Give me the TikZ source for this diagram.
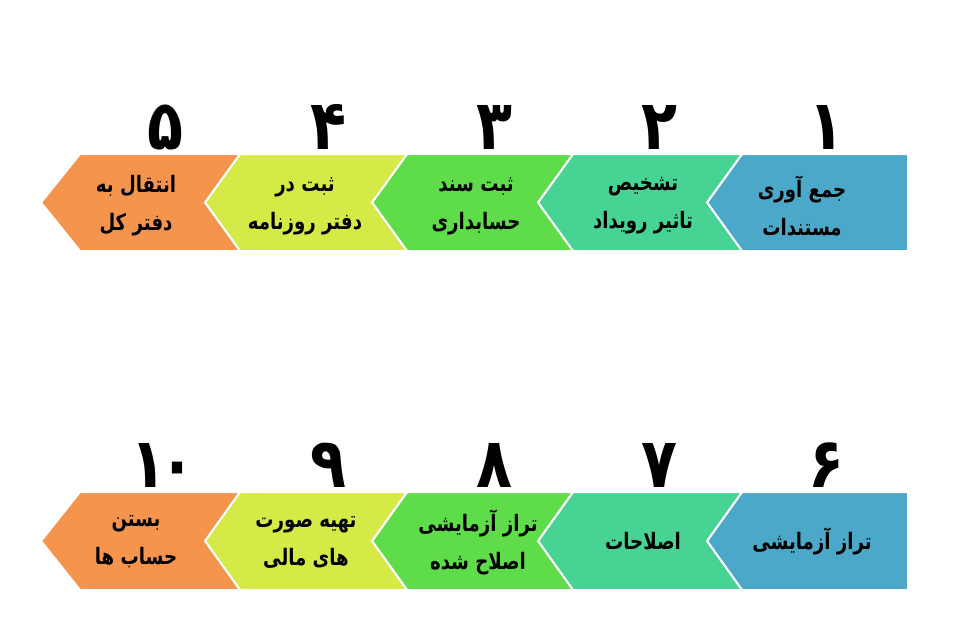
\documentclass[tikz,border=0pt]{standalone}
\usepackage{fontspec}
\usepackage{tikz}
\TeXXeTstate=1
\newfontfamily\arabicfont[Script=Arabic]{DejaVu Sans}
\newcommand{\rtline}[1]{\scalebox{0.8}[1]{\beginR #1\endR}}
\newcommand{\numtxt}[1]{\scalebox{0.85}[1]{#1}}
\definecolor{stepblue}{RGB}{75,168,201}
\definecolor{stepteal}{RGB}{70,211,148}
\definecolor{stepgreen}{RGB}{94,220,74}
\definecolor{stepyellow}{RGB}{213,234,70}
\definecolor{steporange}{RGB}{245,148,76}
\tikzset{
  chevbox/.style={draw=white,line width=1.5pt,line join=miter},
  steptext/.style={inner sep=0.75pt,align=center,font=\arabicfont\bfseries\fontsize{17}{28.5}\selectfont},
  stepnum/.style={inner sep=0.75pt,font=\arabicfont\bfseries\fontsize{52}{52}\selectfont}
}

\begin{document}
\begin{tikzpicture}[x=0.75pt,y=0.75pt,yscale=-1,xscale=1]
\useasboundingbox (0,0) rectangle (968,617);
% first row
\draw [chevbox,fill=stepblue] (742,154) -- (908,154) -- (908,251) -- (742,251) -- (707,202.5) -- cycle ;
\draw [chevbox,fill=stepteal] (573,154) -- (742,154) -- (707,202.5) -- (742,251) -- (573,251) -- (538,202.5) -- cycle ;
\draw [chevbox,fill=stepgreen] (407,154) -- (573,154) -- (538,202.5) -- (573,251) -- (407,251) -- (372,202.5) -- cycle ;
\draw [chevbox,fill=stepyellow] (240,154) -- (407,154) -- (372,202.5) -- (407,251) -- (240,251) -- (205,202.5) -- cycle ;
\draw [chevbox,fill=steporange] (80,154) -- (240,154) -- (205,202.5) -- (240,251) -- (80,251) -- (41,202.5) -- cycle ;
% second row
\draw [chevbox,fill=stepblue] (742,492) -- (908,492) -- (908,590) -- (742,590) -- (707,541) -- cycle ;
\draw [chevbox,fill=stepteal] (573,492) -- (742,492) -- (707,541) -- (742,590) -- (573,590) -- (538,541) -- cycle ;
\draw [chevbox,fill=stepgreen] (407,492) -- (573,492) -- (538,541) -- (573,590) -- (407,590) -- (372,541) -- cycle ;
\draw [chevbox,fill=stepyellow] (240,492) -- (407,492) -- (372,541) -- (407,590) -- (240,590) -- (205,541) -- cycle ;
\draw [chevbox,fill=steporange] (80,492) -- (240,492) -- (205,541) -- (240,590) -- (80,590) -- (41,541) -- cycle ;
% numbers
\node [stepnum] (n1) at (826,127) {\numtxt{۱}};
\node [stepnum] (n2) at (659,127) {\numtxt{۲}};
\node [stepnum] (n3) at (494,127) {\numtxt{۳}};
\node [stepnum] (n4) at (328,127) {\numtxt{۴}};
\node [stepnum] (n5) at (165,127) {\numtxt{۵}};
\node [stepnum] (n6) at (826,465) {\numtxt{۶}};
\node [stepnum] (n7) at (659,465) {\numtxt{۷}};
\node [stepnum] (n8) at (494,465) {\numtxt{۸}};
\node [stepnum] (n9) at (328,465) {\numtxt{۹}};
\node [stepnum] (n10) at (163,465) {\numtxt{۱\kern-6pt۰}};
% labels
\node [steptext] (t1) at (802,206) {\rtline{جمع آوری}\\\rtline{مستندات}};
\node [steptext] (t2) at (643,206) {\rtline{تشخیص}\\\rtline{تاثیر رویداد}};
\node [steptext] (t3) at (476,206) {\rtline{ثبت سند}\\\rtline{حسابداری}};
\node [steptext] (t4) at (305,206) {\rtline{ثبت در}\\\rtline{دفتر روزنامه}};
\node [steptext] (t5) at (136,206) {\rtline{انتقال به}\\\rtline{دفتر کل}};
\node [steptext] (t6) at (812,541) {\rtline{تراز آزمایشی}};
\node [steptext] (t7) at (643,541) {\rtline{اصلاحات}};
\node [steptext] (t8) at (478,542) {\rtline{تراز آزمایشی}\\\rtline{اصلاح شده}};
\node [steptext] (t9) at (306,542) {\rtline{تهیه صورت}\\\rtline{های مالی}};
\node [steptext] (t10) at (136,542) {\rtline{بستن}\\\rtline{حساب ها}};
\end{tikzpicture}
\end{document}
